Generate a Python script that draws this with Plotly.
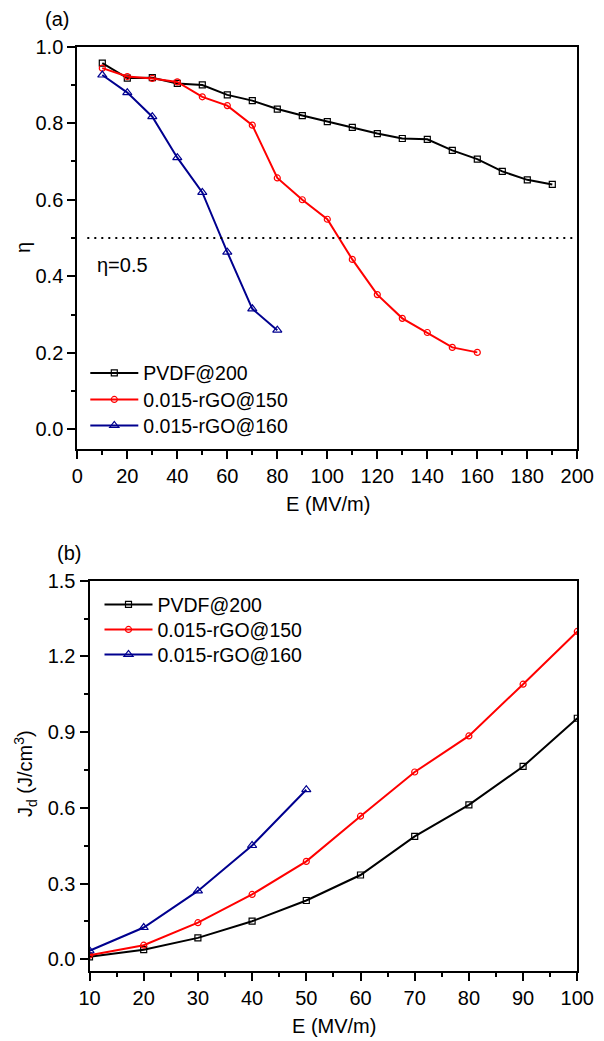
import plotly.graph_objects as go

# ---------------- data: panel (a) ----------------
E_pvdf_a = [10, 20, 30, 40, 50, 60, 70, 80, 90, 100, 110, 120, 130, 140, 150, 160, 170, 180, 190]
eta_pvdf = [0.957, 0.918, 0.919, 0.904, 0.900, 0.874, 0.859, 0.837, 0.820, 0.804,
            0.789, 0.773, 0.760, 0.758, 0.729, 0.706, 0.674, 0.652, 0.640]
E_rgo150_a = [10, 20, 30, 40, 50, 60, 70, 80, 90, 100, 110, 120, 130, 140, 150, 160]
eta_rgo150 = [0.944, 0.922, 0.917, 0.908, 0.869, 0.846, 0.795, 0.657, 0.600, 0.549,
              0.444, 0.352, 0.290, 0.253, 0.214, 0.201]
E_rgo160_a = [10, 20, 30, 40, 50, 60, 70, 80]
eta_rgo160 = [0.926, 0.880, 0.817, 0.710, 0.619, 0.463, 0.315, 0.259]
threshold_E = [4, 200]
threshold_eta = [0.5, 0.5]

# ---------------- data: panel (b) ----------------
E_pvdf_b = [10, 20, 30, 40, 50, 60, 70, 80, 90, 100]
Jd_pvdf = [0.010, 0.038, 0.085, 0.151, 0.233, 0.334, 0.487, 0.612, 0.764, 0.955]
E_rgo150_b = [10, 20, 30, 40, 50, 60, 70, 80, 90, 100]
Jd_rgo150 = [0.016, 0.056, 0.145, 0.257, 0.388, 0.567, 0.742, 0.885, 1.090, 1.299]
E_rgo160_b = [10, 20, 30, 40, 50]
Jd_rgo160 = [0.034, 0.126, 0.271, 0.451, 0.672]

names = ["PVDF@200", "0.015-rGO@150", "0.015-rGO@160"]
colors = ["#000000", "#FF0000", "#00008F"]
symbols = ["square-open", "circle-open", "triangle-up-open"]
marker_sizes = [6, 6, 8]

# page has an 8px body margin; figure fills the rest of the 604x1041 window
OFF = 8
W, H = 604 - OFF, 1041 - OFF
FONT = "Liberation Sans, Arial, sans-serif"


def px(x):
    return (x - OFF) / W


def py(y):
    return 1 - (y - OFF) / H


fig = go.Figure()

legend_ids_a = ["legend", "legend2", "legend3"]
legend_ids_b = ["legend4", "legend5", "legend6"]

series_a = [(E_pvdf_a, eta_pvdf), (E_rgo150_a, eta_rgo150), (E_rgo160_a, eta_rgo160)]
for i, (xs, ys) in enumerate(series_a):
    fig.add_trace(go.Scatter(
        x=xs, y=ys, mode="lines+markers", name=names[i],
        line=dict(color=colors[i], width=2),
        marker=dict(symbol=symbols[i], size=marker_sizes[i], color=colors[i],
                    line=dict(width=1.2, color=colors[i])),
        xaxis="x", yaxis="y", legend=legend_ids_a[i]))

fig.add_trace(go.Scatter(
    x=threshold_E, y=threshold_eta, mode="lines", showlegend=False,
    line=dict(color="black", width=2.2, dash="2px,5px"), xaxis="x", yaxis="y"))

series_b = [(E_pvdf_b, Jd_pvdf), (E_rgo150_b, Jd_rgo150), (E_rgo160_b, Jd_rgo160)]
for i, (xs, ys) in enumerate(series_b):
    fig.add_trace(go.Scatter(
        x=xs, y=ys, mode="lines+markers", name=names[i],
        line=dict(color=colors[i], width=2),
        marker=dict(symbol=symbols[i], size=marker_sizes[i], color=colors[i],
                    line=dict(width=1.2, color=colors[i])),
        xaxis="x2", yaxis="y2", legend=legend_ids_b[i]))

axis_common = dict(
    showline=True, linecolor="black", linewidth=2, mirror=True,
    ticks="outside", ticklen=8, tickwidth=1.5, tickcolor="black",
    showgrid=False, zeroline=False, automargin=False,
    tickfont=dict(family=FONT, size=20, color="black"),
)


def minor(d):
    return dict(ticks="outside", ticklen=4, dtick=d, tickcolor="black", tickwidth=1.5, showgrid=False)


def legend_at(x, row_center):
    return dict(x=px(x), y=py(row_center - 18), xanchor="left", yanchor="top",
                bgcolor="rgba(0,0,0,0)", font=dict(family=FONT, size=19.5, color="black"),
                itemwidth=48, tracegroupgap=0, borderwidth=0)


fig.update_layout(
    template="none",
    width=W, height=H,
    margin=dict(l=0, r=0, t=0, b=0, pad=0),
    paper_bgcolor="white", plot_bgcolor="white",
    font=dict(family=FONT, size=19.5, color="black"),
    xaxis=dict(domain=[px(77.3), px(577.3)], range=[0, 200], dtick=20, anchor="y",
               minor=minor(10), **axis_common),
    yaxis=dict(domain=[py(449), py(46.7)], range=[-0.0515, 1.0], dtick=0.2, tickformat=".1f", anchor="x",
               minor=minor(0.1), **axis_common),
    xaxis2=dict(domain=[px(89.5), px(577.3)], range=[10, 100], dtick=10, anchor="y2",
                minor=minor(5), **axis_common),
    yaxis2=dict(domain=[py(971.3), py(580.7)], range=[-0.0475, 1.5], dtick=0.3, tickformat=".1f", anchor="x2",
                minor=minor(0.15), **axis_common),
    legend=legend_at(85.3, 371.7),
    legend2=legend_at(85.3, 398.3),
    legend3=legend_at(85.3, 424.3),
    legend4=legend_at(99.5, 603.3),
    legend5=legend_at(99.5, 628.3),
    legend6=legend_at(99.5, 653.3),
    showlegend=True,
)


def ann(text, x, y, angle=0, xanchor="center", size=20):
    return dict(text=text, x=px(x), y=py(y), xref="paper", yref="paper", showarrow=False,
                xanchor=xanchor, yanchor="middle", textangle=angle,
                font=dict(family=FONT, size=size, color="black"))


annotations = [
    ann("(a)", 57, 19),
    ann("(b)", 69, 553),
    ann("E (MV/m)", 328, 504),
    ann("E (MV/m)", 334, 1026),
    ann("η", 23, 247, -90),
    ann("J<sub>d</sub> (J/cm<sup>3</sup>)", 25, 774, -90),
    dict(text="η=0.5", x=6.9, y=0.43, xref="x", yref="y", showarrow=False, xanchor="left", yanchor="middle",
         font=dict(family=FONT, size=20, color="black")),
]
fig.update_layout(annotations=annotations)

fig.write_html("out.html")
